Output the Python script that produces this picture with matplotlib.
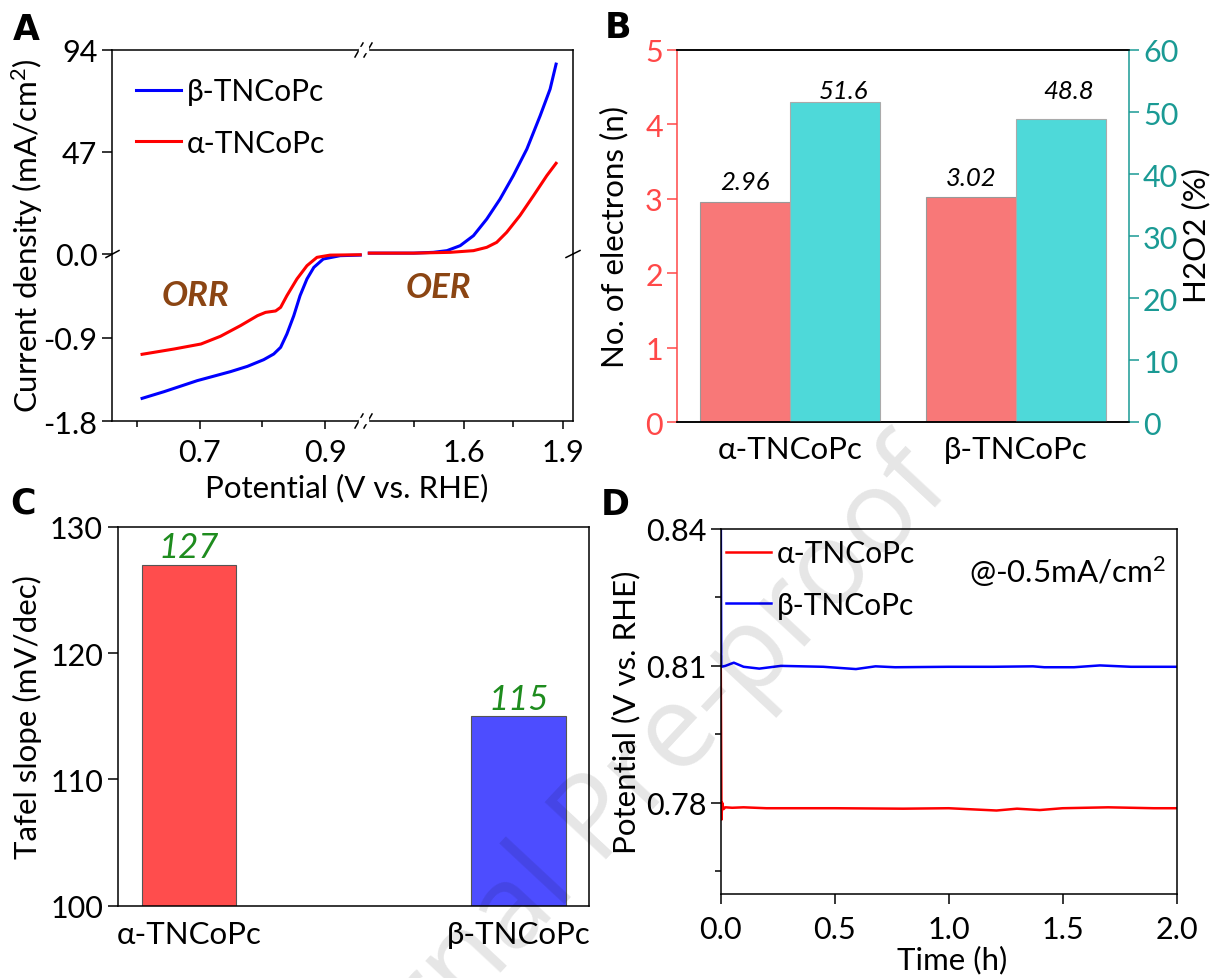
import matplotlib
matplotlib.use('Agg')
import matplotlib.pyplot as plt
from matplotlib.lines import Line2D
from matplotlib.patches import Rectangle
from matplotlib.ticker import FormatStrFormatter
import numpy as np

plt.rcParams['font.family'] = ['Lato', 'DejaVu Sans']
plt.rcParams['mathtext.fontset'] = 'custom'
plt.rcParams['mathtext.rm'] = 'Lato'
plt.rcParams['mathtext.it'] = 'Lato:italic'
plt.rcParams['axes.unicode_minus'] = False
plt.rcParams['axes.linewidth'] = 1.1

# ---------------- data ----------------
# Panel A: ORR (low potential) part
orr_alpha_v = [0.608, 0.659, 0.702, 0.733, 0.765, 0.792, 0.805, 0.821, 0.829, 0.839, 0.855, 0.871, 0.887, 0.908, 0.956]
orr_alpha_j = [-1.081, -1.024, -0.970, -0.887, -0.772, -0.665, -0.629, -0.614, -0.575, -0.449, -0.269, -0.126, -0.036, -0.012, -0.008]
orr_beta_v = [0.608, 0.643, 0.696, 0.749, 0.776, 0.802, 0.818, 0.829, 0.839, 0.850, 0.860, 0.871, 0.882, 0.897, 0.924, 0.956]
orr_beta_j = [-1.556, -1.484, -1.365, -1.268, -1.211, -1.139, -1.078, -1.006, -0.862, -0.665, -0.449, -0.269, -0.144, -0.054, -0.018, -0.012]
# Panel A: OER (high potential) part
oer_alpha_v = [1.316, 1.450, 1.560, 1.630, 1.670, 1.700, 1.730, 1.770, 1.811, 1.851, 1.879]
oer_alpha_j = [0.4, 0.4, 0.77, 1.54, 3.07, 5.37, 9.98, 17.7, 26.9, 36.1, 41.8]
oer_beta_v = [1.316, 1.450, 1.509, 1.550, 1.590, 1.630, 1.670, 1.710, 1.750, 1.791, 1.831, 1.861, 1.879]
oer_beta_j = [0.4, 0.4, 0.77, 1.54, 3.84, 8.45, 16.1, 25.3, 36.1, 48.4, 63.7, 76.0, 87.5]

# Panel B
samples = ['α-TNCoPc', 'β-TNCoPc']
n_electrons = [2.96, 3.02]
h2o2_pct = [51.6, 48.8]

# Panel C
tafel = [127, 115]

# Panel D
t_alpha = [0.0, 0.003, 0.006, 0.012, 0.02, 0.05, 0.1, 0.2, 0.5, 0.8, 1.0, 1.21, 1.3, 1.4, 1.5, 1.7, 1.9, 2.0]
v_alpha = [0.8098, 0.7763, 0.7800, 0.7786, 0.7790, 0.7789, 0.7790, 0.7788, 0.7788, 0.7787, 0.7788, 0.7783, 0.7787, 0.7784, 0.7788, 0.7790, 0.7788, 0.7788]
t_beta = [0.0, 0.002, 0.02, 0.057, 0.1, 0.169, 0.264, 0.45, 0.593, 0.679, 0.765, 1.0, 1.197, 1.37, 1.42, 1.55, 1.664, 1.8, 2.0]
v_beta = [0.845, 0.8098, 0.8100, 0.8107, 0.8098, 0.8094, 0.8100, 0.8098, 0.8093, 0.8099, 0.8097, 0.8098, 0.8098, 0.8099, 0.8097, 0.8097, 0.8101, 0.8098, 0.8098]

# ---------------- figure ----------------
W, H = 1217, 979
fig = plt.figure(figsize=(W / 100, H / 100), dpi=100)


def box(x0, y0, x1, y1):
    return [x0 / W, 1 - y1 / H, (x1 - x0) / W, (y1 - y0) / H]


def fx(x):
    return x / W


def fy(y):
    return 1 - y / H


def fline(xs, ys, color='black', lw=1.1):
    fig.add_artist(Line2D([fx(v) for v in xs], [fy(v) for v in ys], color=color, lw=lw))


TICK = 22
LAB = 22.5
LEG = 21.5
RED = '#FF0000'
BLUE = '#0000FF'

# ---------------- Panel A ----------------
XB, YB = 364, 255
ax_tl = fig.add_axes(box(112, 51, XB, YB))
ax_bl = fig.add_axes(box(112, YB, XB, 422))
ax_tr = fig.add_axes(box(XB, 51, 573, YB))
ax_br = fig.add_axes(box(XB, YB, 573, 422))
for a in (ax_tl, ax_bl, ax_tr, ax_br):
    a.set_facecolor('none')
    a.tick_params(labelsize=TICK, direction='out', width=1.1)
for a in (ax_tl, ax_bl):
    a.set_xlim(0.56, 0.962)
    a.spines['right'].set_visible(False)
for a in (ax_tr, ax_br):
    a.set_xlim(1.30, 1.93)
    a.spines['left'].set_visible(False)
    a.tick_params(left=False, labelleft=False)
for a in (ax_tl, ax_tr):
    a.set_ylim(0, 94)
    a.spines['bottom'].set_visible(False)
    a.tick_params(bottom=False, labelbottom=False)
for a in (ax_bl, ax_br):
    a.set_ylim(-1.8, 0)
    a.spines['top'].set_visible(False)

ax_tl.set_yticks([47, 94])
ax_tl.set_yticklabels(['47', '94'])
ax_tl.tick_params(axis='y', length=7)
ax_bl.set_yticks([-1.8, -0.9, 0.0])
ax_bl.set_yticklabels(['-1.8', '-0.9', '0.0'])
ax_bl.tick_params(axis='y', length=7)
ax_bl.set_xticks([0.7, 0.9])
ax_bl.set_xticklabels(['0.7', '0.9'])
ax_bl.set_xticks([0.6, 0.8], minor=True)
ax_br.set_xticks([1.6, 1.9])
ax_br.set_xticklabels(['1.6', '1.9'])
ax_br.set_xticks([1.45, 1.75], minor=True)
for a in (ax_bl, ax_br):
    a.tick_params(axis='x', which='major', length=6, pad=6)
    a.tick_params(axis='x', which='minor', length=4, width=1.1)

lb, = ax_bl.plot(orr_beta_v, orr_beta_j, color=BLUE, lw=2.2, clip_on=False)
la, = ax_bl.plot(orr_alpha_v, orr_alpha_j, color=RED, lw=2.2, clip_on=False)
ax_tr.plot(oer_beta_v, oer_beta_j, color=BLUE, lw=2.2, clip_on=False)
ax_tr.plot(oer_alpha_v, oer_alpha_j, color=RED, lw=2.2, clip_on=False)

ax_tl.legend([lb, la], ['β-TNCoPc', 'α-TNCoPc'], loc='upper left',
             bbox_to_anchor=(fx(136), fy(78)), bbox_transform=fig.transFigure,
             frameon=False, fontsize=LEG, handlelength=1.5, handletextpad=0.2,
             labelspacing=0.8, borderpad=0, borderaxespad=0)

# break marks
fig.add_artist(Rectangle((fx(359), fy(53)), 9 / W, 5 / H, transform=fig.transFigure,
                         color='white', zorder=5))
fig.add_artist(Rectangle((fx(359), fy(424)), 9 / W, 5 / H, transform=fig.transFigure,
                         color='white', zorder=5))
for xc in (359, 368):
    fline([xc - 4, xc + 4], [58, 44])
    fline([xc - 4, xc + 4], [429, 415])
fline([106, 119], [258.5, 251.5])
fline([566, 580], [258.5, 251.5])

fig.text(fx(27), fy(236), 'Current density (mA/cm$^2$)', rotation=90,
         ha='center', va='center', fontsize=LAB)
fig.text(fx(347), fy(488), 'Potential (V vs. RHE)', ha='center', va='center', fontsize=LAB)
fig.text(fx(196), fy(296), 'ORR', ha='center', va='center', fontsize=25,
         fontweight='bold', fontstyle='italic', color='#8B4513')
fig.text(fx(438), fy(288), 'OER', ha='center', va='center', fontsize=25,
         fontweight='bold', fontstyle='italic', color='#8B4513')

# ---------------- Panel B ----------------
BRED = '#FF4848'
TEAL = '#1A9A94'
axB = fig.add_axes(box(677.5, 51, 1128.5, 423.3))
axB2 = axB.twinx()
xb = np.arange(len(samples))
axB.bar(xb - 0.2, n_electrons, 0.4, color='#F87878', edgecolor='#999999', lw=0.8)
axB2.bar(xb + 0.2, h2o2_pct, 0.4, color='#4ED9D9', edgecolor='#aaaaaa', lw=0.8)
axB.set_xlim(-0.5, 1.5)
axB.set_ylim(0, 5)
axB2.set_ylim(0, 60)
axB.set_yticks(range(0, 6))
axB2.set_yticks(range(0, 61, 10))
axB.set_xticks(xb)
axB.set_xticklabels(samples, fontsize=LAB)
axB.tick_params(axis='x', length=0, pad=9)
axB.tick_params(axis='y', colors=BRED, labelsize=TICK, length=7, width=1.1)
axB2.tick_params(axis='y', colors=TEAL, labelsize=TICK, length=7, width=1.1)
axB.spines['right'].set_visible(False)
axB2.spines['left'].set_visible(False)
axB.spines['left'].set_color(BRED)
axB2.spines['right'].set_color(TEAL)
for n, v in zip(xb, n_electrons):
    axB.text(n - 0.2, v + 0.27, f'{v:.2f}', ha='center', va='center',
             fontsize=18.5, fontstyle='italic')
for n, v in zip(xb, h2o2_pct):
    axB2.text(n + 0.235, max(h2o2_pct) + 1.84, f'{v:.1f}', ha='center', va='center',
              fontsize=18.5, fontstyle='italic')
fig.text(fx(614), fy(237), 'No. of electrons (n)', rotation=90, ha='center', va='center', fontsize=LAB)
fig.text(fx(1196), fy(236), 'H2O2 (%)', rotation=90, ha='center', va='center', fontsize=LAB)

# ---------------- Panel C ----------------
axC = fig.add_axes(box(117.6, 527.7, 589, 906.7))
xc = np.arange(len(samples))
axC.bar(xc, tafel, 0.286, bottom=0, color=['#FF4D4D', '#4D4DFF'], edgecolor='#555555', lw=0.8)
axC.set_xlim(-0.216, 1.214)
axC.set_ylim(100, 130)
axC.set_yticks([100, 110, 120, 130])
axC.set_xticks(xc)
axC.set_xticklabels(samples, fontsize=LAB)
axC.tick_params(axis='x', length=0, pad=10)
axC.tick_params(axis='y', labelsize=TICK, length=7, width=1.1)
for n, v in zip(xc, tafel):
    axC.text(n, v + 1.4, f'{v}', ha='center', va='center', fontsize=25,
             fontstyle='italic', color='#1E8C1E')
fig.text(fx(27), fy(717), 'Tafel slope (mV/dec)', rotation=90, ha='center', va='center', fontsize=LAB)

# ---------------- Panel D ----------------
axD = fig.add_axes(box(720.8, 530, 1176.5, 895))
ld_a, = axD.plot(t_alpha, v_alpha, color=RED, lw=1.8)
ld_b, = axD.plot(t_beta, v_beta, color=BLUE, lw=1.8)
axD.set_xlim(0, 2.0)
axD.set_ylim(0.76, 0.84)
axD.set_xticks([0, 0.5, 1.0, 1.5, 2.0])
axD.xaxis.set_major_formatter(FormatStrFormatter('%.1f'))
axD.set_yticks([0.78, 0.81, 0.84])
axD.yaxis.set_major_formatter(FormatStrFormatter('%.2f'))
axD.set_yticks([0.765, 0.795, 0.825], minor=True)
axD.tick_params(labelsize=TICK, length=7, width=1.1)
axD.tick_params(axis='x', pad=8)
axD.tick_params(which='minor', length=4, width=1.1)
axD.legend([ld_a, ld_b], ['α-TNCoPc', 'β-TNCoPc'], loc='upper left',
           bbox_to_anchor=(fx(726), fy(540)), bbox_transform=fig.transFigure,
           frameon=False, fontsize=LEG, handlelength=1.5, handletextpad=0.2,
           labelspacing=0.8, borderpad=0, borderaxespad=0)
fig.text(fx(1067), fy(572), '@-0.5mA/cm$^2$', ha='center', va='center', fontsize=LAB)
fig.text(fx(952), fy(960), 'Time (h)', ha='center', va='center', fontsize=LAB)
fig.text(fx(626), fy(712), 'Potential (V vs. RHE)', rotation=90, ha='center', va='center', fontsize=LAB)

# ---------------- panel letters ----------------
for letter, (px, py) in zip('ABCD', [(26, 30), (618, 28), (23, 504), (615, 505)]):
    fig.text(fx(px), fy(py), letter, ha='center', va='center', fontsize=25, fontweight='bold',
             family=['DejaVu Sans'])

# watermark
fig.text(fx(615), fy(815), 'Journal Pre-proof', rotation=47, ha='center', va='center',
         fontsize=84, color='black', alpha=0.10, family=['Open Sans', 'DejaVu Sans'], zorder=20)

fig.savefig('out.png', dpi=100)
